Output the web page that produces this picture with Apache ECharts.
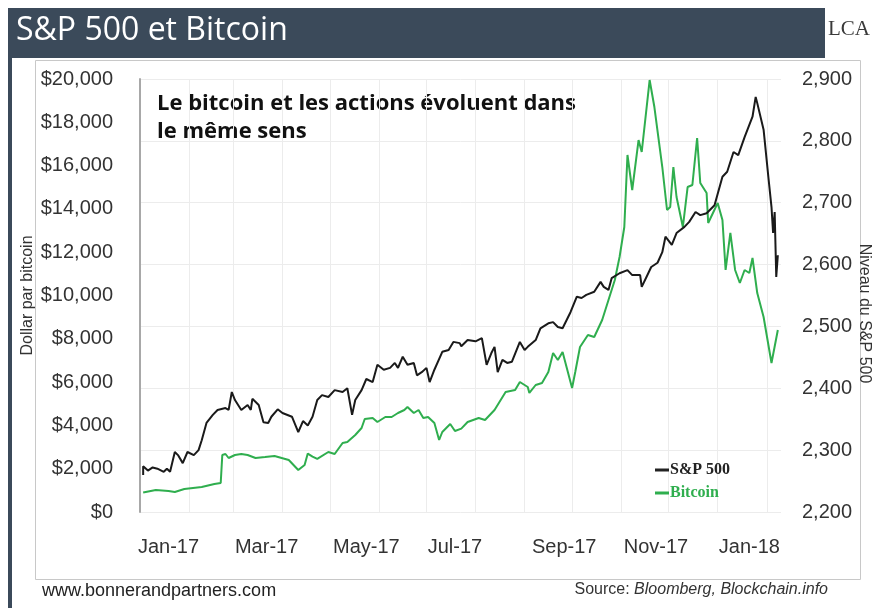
<!DOCTYPE html>
<html>
<head>
<meta charset="utf-8">
<script src="https://cdn.jsdelivr.net/npm/echarts@6/dist/echarts.min.js"></script>
<style>
html,body{margin:0;padding:0;background:#fff;}
#c{width:875px;height:608px;}
</style>
</head>
<body>
<div id="c"></div>
<script>
// Days since 2017-01-01 and values
const spDays = [2,2,5,8,11,15,17,19,22,24,27,30,34,37,39,42,46,49,54,56,58,60,64,68,70,71,75,78,81,83,87,90,96,100,103,106,109,112,115,119,123,128,131,134,136,140,143,147,150,154,158,161,163,166,169,173,175,178,181,183,186,191,195,198,202,203,207,212,216,219,222,224,226,229,232,235,240,243,245,250,253,258,261,264,267,272,276,279,282,287,291,293,296,298,303,308,311,316,317,320,323,327,330,332,336,339,344,347,351,354,358,363,368,371,375,378,382,387,389,390,394,397,399,400,401,402,403];
const spValues = [2260,2274,2267,2272,2270,2265,2270,2265,2297,2292,2279,2297,2292,2300,2316,2344,2357,2365,2368,2365,2394,2381,2365,2373,2365,2383,2373,2345,2344,2354,2366,2360,2354,2329,2347,2340,2354,2381,2389,2386,2397,2394,2400,2357,2381,2397,2415,2410,2438,2430,2433,2441,2433,2451,2438,2441,2421,2426,2433,2410,2430,2459,2462,2475,2473,2468,2478,2476,2481,2438,2457,2467,2426,2446,2441,2443,2475,2462,2467,2478,2497,2505,2507,2499,2497,2523,2548,2546,2551,2556,2572,2564,2559,2578,2586,2591,2583,2583,2564,2580,2596,2603,2620,2645,2632,2651,2661,2669,2685,2680,2683,2696,2742,2750,2782,2777,2806,2839,2871,2861,2818,2742,2693,2651,2685,2580,2615];

const btcDays = [2,3,10,18,22,28,39,47,51,52,54,56,60,64,68,73,79,85,94,100,104,106,109,112,119,123,128,131,136,140,142,147,150,155,159,163,167,169,173,176,179,182,186,189,191,196,199,203,207,214,218,224,231,237,240,245,246,250,254,258,261,264,267,273,275,278,283,287,292,296,300,303,306,308,311,315,317,322,325,330,333,335,337,339,343,346,349,352,354,358,359,362,365,368,370,373,376,379,382,385,387,390,394,399,403];
const btcValues = [900,990,1016,970,924,1062,1155,1293,1340,2633,2679,2494,2633,2679,2633,2494,2540,2587,2402,1940,2171,2700,2560,2450,2771,2680,3187,3230,3557,3880,4296,4342,4157,4388,4388,4573,4711,4850,4573,4711,4342,4388,4111,3326,3695,4065,3740,3850,4157,4342,4250,4711,5543,5635,6005,5773,5497,5866,5958,6467,7344,7021,7390,5727,6467,7621,8175,8083,8868,9792,10716,11778,13164,16490,14873,17182,16628,19953,18706,15935,13949,14088,15935,14550,13164,15011,15104,17274,15196,14734,13349,13811,14273,13487,11178,12887,11178,10577,11178,11040,11732,10115,9007,6882,8406];

const monthStarts = [0,31,59,90,120,151,181,212,243,273,304,334,365,396];
const xLabelDays = [18,80,143,199,268,326,385];
const xLabels = ['Jan-17','Mar-17','May-17','Jul-17','Sep-17','Nov-17','Jan-18'];

const spData = spDays.map((d,i)=>[d, spValues[i]]);
const btcData = btcDays.map((d,i)=>[d, btcValues[i]]);

const chart = echarts.init(document.getElementById('c'));
chart.setOption({
  animation:false,
  backgroundColor:'#fff',
  title:{
    text:'S&P 500 et Bitcoin', left:11, top:10,
    textStyle:{color:'#fff', fontSize:32, fontWeight:'normal', fontFamily:'Open Sans'}
  },
  graphic:[
    {type:'rect', left:8, top:8, z:-1, shape:{width:817, height:50}, style:{fill:'#3b4a5a'}},
    {type:'rect', left:8, top:58, z:-1, shape:{width:4, height:550}, style:{fill:'#3b4a5a'}},
    {type:'rect', left:33, top:58, z:-2, shape:{width:825, height:519}, style:{fill:'none', stroke:'#c8c8c8', lineWidth:1}},
    {type:'text', left:828, top:19, style:{text:'LCA', fontFamily:'Liberation Serif', fontSize:21, fill:'#3a3a3a'}},
    {type:'text', left:157, top:90, style:{text:'Le bitcoin et les actions évoluent dans\nle même sens', fontFamily:'Open Sans', fontWeight:'bold', fontSize:22, lineHeight:28, fill:'#111'}},
    {type:'text', left:42, top:582, style:{text:'www.bonnerandpartners.com', fontFamily:'Liberation Sans', fontSize:18, fill:'#222'}},
    {type:'text', right:47, top:582, style:{rich:{a:{fontFamily:'Liberation Sans', fontSize:16, fill:'#333'}, b:{fontFamily:'Liberation Sans', fontStyle:'italic', fontSize:16, fill:'#333'}}, text:'{a|Source: }{b|Bloomberg, Blockchain.info}'}}
  ],
  legend:{
    orient:'vertical', left:650, top:457, itemGap:7, itemWidth:14, itemHeight:3, icon:'rect',
    data:[
      {name:'S&P 500', itemStyle:{color:'#222'}, textStyle:{color:'#222'}},
      {name:'Bitcoin', itemStyle:{color:'#2fae4e'}, textStyle:{color:'#2fae4e'}}
    ],
    textStyle:{fontFamily:'Liberation Serif', fontWeight:'bold', fontSize:16, padding:[0,0,0,-4]}
  },
  grid:{left:140, right:94, top:79, bottom:96, outerBoundsMode:'none', containLabel:false},
  xAxis:{
    type:'value', min:0, max:405,
    axisLine:{show:false},
    axisTick:{show:false, customValues:monthStarts},
    splitLine:{show:true, lineStyle:{color:'#ececec', width:1}},
    axisLabel:{customValues:xLabelDays, margin:25, fontFamily:'Liberation Sans', fontSize:20, color:'#333',
      formatter:function(v){ const i = xLabelDays.indexOf(v); return i>=0 ? xLabels[i] : ''; }}
  },
  yAxis:[
    {type:'value', min:0, max:20000, interval:2000, position:'left',
     name:'Dollar par bitcoin', nameLocation:'middle', nameRotate:90, nameGap:104, nameMoveOverlap:false,
     nameTextStyle:{fontFamily:'Liberation Sans', fontSize:16, color:'#333'},
     axisLine:{show:true, lineStyle:{color:'#a8a8a8', width:2}}, axisTick:{show:false},
     splitLine:{show:false},
     axisLabel:{margin:27, fontFamily:'Liberation Sans', fontSize:20, color:'#333',
       formatter:function(v){ return '$' + v.toLocaleString('en-US'); }}},
    {type:'value', min:2200, max:2900, interval:100, position:'right',
     name:'Niveau du S&P 500', nameLocation:'middle', nameRotate:-90, nameGap:75, nameMoveOverlap:false,
     nameTextStyle:{fontFamily:'Liberation Sans', fontSize:16, color:'#333', padding:[0,0,0,36]},
     axisLine:{show:false}, axisTick:{show:false},
     splitLine:{show:true, lineStyle:{color:'#ececec', width:1}},
     axisLabel:{margin:21, fontFamily:'Liberation Sans', fontSize:20, color:'#333',
       formatter:function(v){ return v.toLocaleString('en-US'); }}}
  ],
  series:[
    {name:'Bitcoin', type:'line', yAxisIndex:0, data:btcData, showSymbol:false, lineStyle:{color:'#2fae4e', width:2}, itemStyle:{color:'#2fae4e'}, z:2},
    {name:'S&P 500', type:'line', yAxisIndex:1, data:spData, showSymbol:false, lineStyle:{color:'#1a1a1a', width:2}, itemStyle:{color:'#1a1a1a'}, z:3}
  ]
});
</script>
</body>
</html>
